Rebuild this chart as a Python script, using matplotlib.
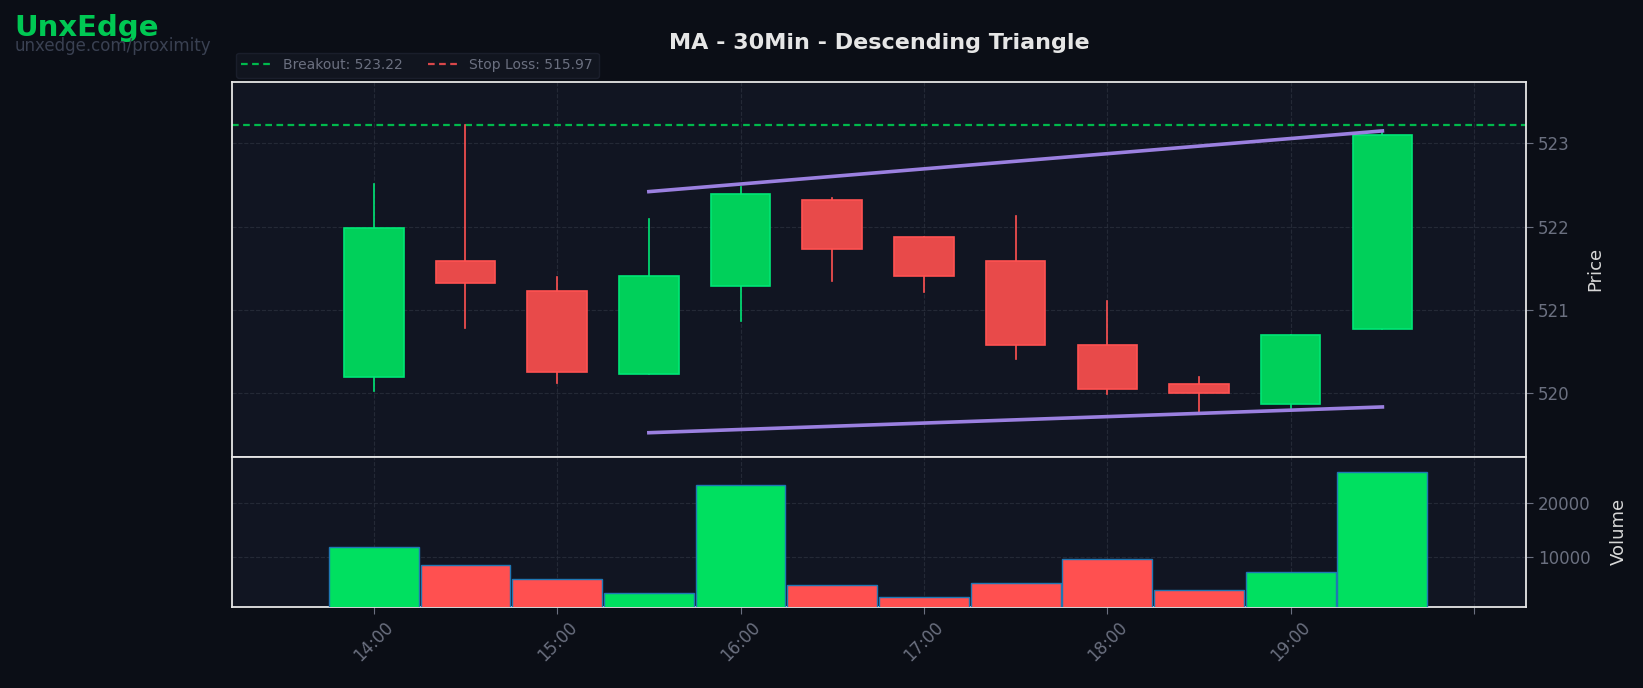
import matplotlib.pyplot as plt
from matplotlib.patches import Rectangle

# 30 minute bars, 14:00 .. 19:30
times = ['14:00', '14:30', '15:00', '15:30', '16:00', '16:30',
         '17:00', '17:30', '18:00', '18:30', '19:00', '19:30']
opens = [520.19, 521.59, 521.22, 520.23, 521.28, 522.32, 521.88, 521.58, 520.58, 520.11, 519.86, 520.77]
highs = [522.51, 523.22, 521.39, 522.09, 522.48, 522.34, 521.88, 522.13, 521.11, 520.19, 520.69, 523.14]
lows = [520.02, 520.78, 520.12, 520.23, 520.86, 521.35, 521.21, 520.41, 519.99, 519.76, 519.82, 520.77]
closes = [521.98, 521.32, 520.25, 521.41, 522.39, 521.73, 521.41, 520.57, 520.04, 520.00, 520.69, 523.10]
volumes = [11900, 8600, 6000, 3400, 23400, 4900, 2700, 5300, 9700, 4000, 7300, 25800]

breakout = 523.22
stop_loss = 515.97
# trendline endpoints (bar index, price)
upper_x = [3, 11]
upper_y = [522.42, 523.15]
lower_x = [3, 11]
lower_y = [519.52, 519.83]

tick_pos = [0, 2, 4, 6, 8, 10, 12]
tick_labels = ['14:00', '15:00', '16:00', '17:00', '18:00', '19:00', '']

BG = '#0b0e16'
PANEL = '#111522'
UP, UP_EDGE = '#00d05a', '#00e676'
DOWN, DOWN_EDGE = '#e84a4a', '#ff5252'
GRID = '#2a2f3c'
TXT = '#6b7080'

fig = plt.figure(figsize=(16.43, 6.88), dpi=100, facecolor=BG)
ax = fig.add_axes([0.141, 0.336, 0.788, 0.545])
axv = fig.add_axes([0.141, 0.118, 0.788, 0.218], sharex=ax)

for a in (ax, axv):
    a.set_facecolor(PANEL)
    for s in a.spines.values():
        s.set_color('#e6e6e6')
        s.set_linewidth(1.3)
    a.grid(True, color=GRID, linestyle='--', linewidth=0.8, alpha=0.8)
    a.yaxis.tick_right()
    a.yaxis.set_label_position('right')
    a.tick_params(colors=TXT, labelsize=12, length=5)
    a.set_axisbelow(True)

w = 0.65
for i in range(len(times)):
    up = closes[i] >= opens[i]
    fc, ec = (UP, UP_EDGE) if up else (DOWN, DOWN_EDGE)
    ax.plot([i, i], [lows[i], highs[i]], color=ec, linewidth=1.2, zorder=2)
    lo = min(opens[i], closes[i])
    ax.add_patch(Rectangle((i - w / 2, lo), w, abs(closes[i] - opens[i]),
                           facecolor=fc, edgecolor=ec, linewidth=1.2, zorder=3))

ax.axhline(breakout, color='#00b84c', linestyle=(0, (3, 2)), linewidth=1.6,
           label=f'Breakout: {breakout:.2f}', zorder=1)
ax.axhline(stop_loss, color='#d9474a', linestyle=(0, (3, 2)), linewidth=1.6,
           label=f'Stop Loss: {stop_loss:.2f}', zorder=1)
ax.plot(upper_x, upper_y, color='#9b80e0', linewidth=2.6, zorder=4)
ax.plot(lower_x, lower_y, color='#9b80e0', linewidth=2.6, zorder=4)

ax.set_ylim(519.23, 523.74)
ax.set_yticks([520, 521, 522, 523])
ax.set_ylabel('Price', color='#d8d8d8', fontsize=13, labelpad=12)
ax.tick_params(axis='x', labelbottom=False)

vcolors = ['#00e060' if c >= o else '#ff5050' for o, c in zip(opens, closes)]
axv.bar(range(len(times)), volumes, width=0.98, color=vcolors,
        edgecolor='#1f77b4', linewidth=1.0, zorder=3)
axv.set_ylim(870, 28520)
axv.set_yticks([10000, 20000])
axv.set_ylabel('Volume', color='#d8d8d8', fontsize=13, labelpad=14)
axv.set_xlim(-1.55, 12.57)
axv.set_xticks(tick_pos)
axv.set_xticklabels(tick_labels, rotation=45)

leg = ax.legend(loc='lower left', bbox_to_anchor=(0.0, 1.0), ncol=2, fontsize=10,
                frameon=True, facecolor='#131722', edgecolor='#1e2230',
                labelcolor=TXT, borderaxespad=0.3, handlelength=2.2, columnspacing=1.8)

fig.text(0.535, 0.937, 'MA - 30Min - Descending Triangle', ha='center', va='center',
         color='#e6e6e6', fontsize=16, fontweight='bold')
fig.text(0.009, 0.960, 'UnxEdge', ha='left', va='center', color='#00c853',
         fontsize=21, fontweight='bold')
fig.text(0.009, 0.933, 'unxedge.com/proximity', ha='left', va='center',
         color='#3a4152', fontsize=12)

fig.savefig('out.png', dpi=100, facecolor=BG)
